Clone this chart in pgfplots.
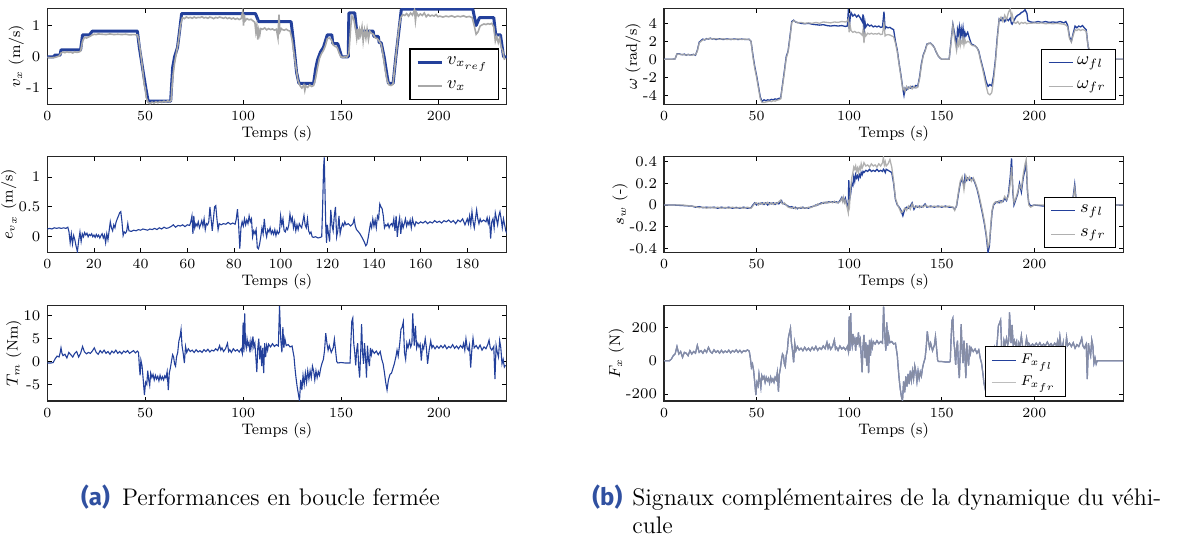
\documentclass[border=0pt]{standalone}
\usepackage{fontspec}
\usepackage{pgfplots}
\pgfplotsset{compat=1.18}
\usepackage{pgfplotstable}
\newfontfamily\capsf{Fira Sans}
\definecolor{pblue}{RGB}{35,64,155}
\definecolor{pgray}{RGB}{168,168,168}
\definecolor{capblue}{RGB}{48,80,160}

\pgfplotsset{
  myax/.style={
    scale only axis, width=229.6pt, height=48pt,
    anchor=north west,
    axis line style={black!85, line width=0.55pt},
    tick align=inside, major tick length=2.2pt,
    tick style={black, line width=0.45pt},
    tick label style={font=\fontsize{7.4}{8.5}\selectfont},
    xlabel near ticks, ylabel near ticks,
    xlabel style={font=\fontsize{7.6}{8.5}\selectfont, inner sep=2pt, yshift=2.5pt},
    ylabel style={font=\fontsize{7.6}{8.5}\selectfont, inner sep=1pt, yshift=-3.5pt},
    xlabel={Temps (s)},
    xtick={0,50,100,150,200},
    xmin=0,
    legend cell align=left,
    legend image code/.code={\draw[##1] (0pt,0pt) -- (12pt,0pt);},
    legend style={draw=black, line width=0.6pt, fill=white,
      font=\fontsize{9}{10}\selectfont, inner xsep=3pt, inner ysep=2pt, row sep=2.5pt},
  },
}

\pgfplotstableread{
t fl fr
0 0 0
3 0 0
5 0.02 0.02
6 0.05 0.05
7 0.6 0.6
8 0.62 0.58
9 0.55 0.52
10 0.5 0.55
11 0.58 0.5
12 0.45 0.48
13 0.55 0.5
14 0.48 0.5
15 0.5 0.45
16 0.55 0.52
17 0.45 0.5
18 1.0 0.9
19 1.9 1.8
20 2.1 2.0
21 2.25 2.15
22 2.15 2.2
23 2.3 2.25
24 2.25 2.3
25 2.35 2.3
26 2.25 2.3
27 2.3 2.25
28 2.2 2.3
30 2.28 2.22
32 2.2 2.28
34 2.27 2.2
36 2.2 2.25
38 2.26 2.2
40 2.2 2.27
42 2.25 2.2
44 2.2 2.25
46 2.22 2.2
47 2.0 2.0
48 0.5 0.3
49 -0.8 -1.0
50 -1.8 -2.0
51 -3.0 -3.2
52 -4.2 -4.4
53 -4.7 -4.8
54 -4.5 -4.8
55 -4.6 -4.75
56 -4.5 -4.7
57 -4.55 -4.65
58 -4.45 -4.7
59 -4.5 -4.6
60 -4.4 -4.65
61 -4.45 -4.55
62 -4.35 -4.5
63 -4.3 -4.4
64 -2.8 -3.0
65 -1.3 -1.5
66 0.3 0.1
67 0.9 0.8
68 2.5 2.3
69 4.2 4.1
70 4.35 4.3
71 4.15 4.2
72 4.1 4.05
74 4.0 4.1
76 3.95 4.0
78 4.0 4.05
80 3.9 4.0
82 3.85 4.1
84 3.8 4.0
86 3.85 4.15
88 3.75 4.1
90 3.7 4.05
92 3.75 4.15
94 3.7 4.1
96 3.75 4.2
98 3.65 4.15
99 3.7 4.25
99.6 5.6 4.5
100 3.4 3.0
100.5 4.5 3.8
101 5.2 3.2
102 4.8 3.0
103 5.0 3.1
104 4.7 2.95
105 4.9 3.0
106 4.6 2.9
107 4.2 2.7
107.5 5.0 3.3
108 2.8 1.8
108.5 4.2 3.0
109 3.6 2.6
110 3.9 2.9
111 3.7 2.8
112 3.8 2.9
113 3.6 2.8
114 3.7 2.85
115 3.6 2.8
116 3.7 2.9
117 3.55 2.75
118 3.6 2.8
118.8 5.3 4.0
119.4 3.4 2.6
120 3.6 2.7
121 3.5 2.75
122 3.55 2.7
123 3.4 2.6
124 3.3 2.5
125 2.0 1.8
126 1.0 0.8
127 -0.5 -0.6
128 -1.8 -2.0
129 -3.3 -3.4
129.6 -4.0 -3.2
130.2 -3.2 -3.6
131 -3.4 -3.0
132 -3.1 -3.3
133 -3.2 -3.0
134 -3.0 -3.3
135 -3.15 -3.0
136 -2.9 -3.2
137 -3.0 -3.1
138 -2.0 -2.2
139 -0.5 -0.7
140 0.5 0.4
141 1.0 0.9
142 1.7 1.6
143 1.75 1.8
144 1.8 1.75
145 1.6 1.55
146 1.3 1.3
147 0.8 0.85
148 0.4 0.4
149 0.15 0.2
150 0.0 0.0
152 0.0 0.02
154 0.0 0.0
155 2.0 1.8
156 3.9 3.8
157 2.8 2.2
158 1.5 1.0
158.5 3.3 2.0
159 2.8 1.6
159.5 3.6 2.4
160 2.5 1.5
160.5 3.4 2.0
161 2.6 1.8
161.5 3.5 2.4
162 2.4 1.6
162.5 3.0 2.2
163 2.6 1.8
164 3.0 2.0
165 2.3 1.9
166 1.7 1.6
167 1.6 1.5
168 1.5 1.5
169 1.3 1.3
170 0.9 0.8
171 0.0 -0.2
172 -0.8 -1.0
173 -1.6 -2.0
174 -2.5 -3.0
175 -3.0 -3.8
176 -2.8 -3.95
177 -2.95 -3.7
178 -1.8 -2.3
179 0.0 -0.3
180 2.5 2.2
181 4.5 4.4
182 4.3 4.7
183 4.6 4.2
184 4.2 4.9
185 4.5 4.4
186 4.3 5.2
187 4.6 5.6
187.6 4.0 4.6
188 3.9 5.0
189 4.3 4.1
190 4.7 4.0
191 4.9 4.2
192 5.0 3.9
193 5.2 4.1
194 5.3 4.0
195 5.5 4.1
196 5.1 3.95
196.5 4.3 4.0
198 4.15 4.0
200 4.1 4.05
202 4.2 4.0
204 4.1 4.05
206 4.2 3.95
208 4.1 4.0
210 4.15 3.95
212 4.1 4.0
214 4.2 3.95
216 4.05 3.9
217 4.2 3.8
218 3.8 3.6
219 2.5 2.3
220 2.0 1.9
221 2.9 2.7
222 3.7 3.3
223 3.5 3.2
224 3.7 3.35
225 3.6 3.2
226 3.75 3.3
227 3.5 3.25
228 3.3 3.1
229 1.5 1.5
230 0.5 1.0
231 0.0 0.2
232 0.0 0.0
248 0 0
}\omegatab

\pgfplotstableread{
t fl fr
0 0 0
5 0.0 0.0
10 -0.005 0.0
15 -0.01 -0.01
17 -0.02 -0.015
19 -0.015 -0.025
21 -0.025 -0.02
23 -0.02 -0.03
25 -0.025 -0.02
27 -0.02 -0.028
29 -0.03 -0.02
31 -0.02 -0.03
33 -0.028 -0.022
35 -0.02 -0.03
37 -0.03 -0.02
39 -0.022 -0.03
41 -0.03 -0.022
43 -0.02 -0.03
45 -0.03 -0.02
47 -0.025 -0.03
48 0.0 -0.01
49 0.02 0.015
50 0.0 0.02
51 0.015 0.0
52 0.01 0.02
53 0.02 0.005
54 0.005 0.02
55 0.02 0.01
56 0.0 0.025
57 0.02 0.005
58 0.01 0.02
59 0.02 0.005
60 0.005 0.02
61 0.02 0.01
62 0.01 0.03
63 0.03 0.045
63.5 0.04 0.02
64 0.015 0.01
65 0.01 0.02
66 0.0 0.0
67 -0.01 -0.02
68 -0.02 -0.025
69 -0.015 -0.03
70 -0.03 -0.02
71 -0.02 -0.035
72 -0.035 -0.025
73 -0.025 -0.03
74 -0.03 -0.02
75 -0.02 -0.03
76 -0.03 -0.025
77 -0.025 -0.03
78 -0.03 -0.02
79 -0.02 -0.025
80 -0.015 -0.02
81 -0.01 -0.005
82 0.0 -0.01
83 0.0 0.01
84 0.01 0.005
85 0.02 0.01
86 0.015 0.025
87 0.025 0.015
88 0.02 0.03
89 0.03 0.02
90 0.025 0.03
91 0.03 0.02
92 0.025 0.035
93 0.03 0.02
94 0.02 0.025
95 0.04 0.03
96 0.07 0.06
96.5 0.04 0.03
97 0.06 0.07
97.5 0.03 0.02
98 0.06 0.04
98.5 0.02 0.0
99 0.0 -0.03
99.5 -0.02 -0.07
99.8 0.23 0.05
100.2 0.05 0.0
100.8 0.1 0.15
101.4 0.2 0.25
102 0.18 0.3
102.5 0.26 0.35
103 0.22 0.33
103.5 0.28 0.36
104 0.25 0.31
104.5 0.27 0.34
105 0.24 0.3
105.5 0.28 0.35
106 0.26 0.33
106.5 0.3 0.38
107 0.28 0.34
107.5 0.31 0.36
108 0.3 0.39
109 0.32 0.36
110 0.31 0.37
111 0.33 0.35
112 0.31 0.38
113 0.32 0.36
114 0.31 0.37
115 0.33 0.35
116 0.31 0.38
117 0.32 0.36
118 0.31 0.39
118.5 0.33 0.44
119 0.32 0.37
119.5 0.3 0.4
120 0.33 0.36
121 0.32 0.38
122 0.31 0.42
123 0.3 0.35
124 0.2 0.22
125 0.05 0.06
126 0.0 0.01
127 -0.02 -0.03
128 -0.05 -0.07
129 -0.1 -0.06
130 -0.04 -0.03
131 -0.02 -0.05
132 -0.03 -0.01
133 -0.01 -0.04
134 0.02 0.01
135 -0.04 -0.02
136 -0.01 -0.02
137 -0.02 -0.01
138 -0.01 -0.025
139 -0.02 -0.01
140 -0.01 -0.02
141 0.01 0.0
142 -0.02 -0.01
144 -0.01 -0.02
146 -0.02 -0.01
148 -0.01 -0.02
150 -0.02 -0.01
152 -0.01 -0.02
154 -0.02 -0.01
156 -0.02 -0.02
157 -0.04 -0.05
158 -0.01 0.0
159 0.1 0.12
160 0.2 0.22
161 0.24 0.26
162 0.18 0.14
162.5 0.26 0.2
163 0.22 0.27
164 0.25 0.23
165 0.23 0.26
166 0.25 0.22
167 0.24 0.25
168 0.2 0.21
169 0.15 0.16
170 0.08 0.1
171 0.0 0.02
172 -0.08 -0.06
173 -0.17 -0.15
174 -0.28 -0.26
175 -0.44 -0.39
175.7 -0.38 -0.36
176.5 -0.2 -0.18
177.2 -0.06 -0.05
178 0.0 0.01
179 0.02 0.03
180 0.03 0.02
181 0.02 0.04
182 0.04 0.02
183 0.03 0.04
184 0.06 0.08
185 0.04 0.05
186 0.1 0.08
187 0.26 0.2
187.7 0.43 0.35
188.4 0.12 0.15
189 0.0 0.02
190 0.05 0.06
191 0.1 0.12
192 0.2 0.18
193 0.12 0.15
194 0.25 0.28
195 0.33 0.38
195.6 0.4 0.42
196.3 0.12 0.15
197 0.02 0.0
198 -0.01 -0.02
200 0.0 0.0
205 -0.01 0.0
210 0.0 -0.01
215 -0.01 0.0
220 0.0 0.0
221 0.08 0.06
221.8 0.19 0.16
222.5 0.06 0.05
223.5 0.0 0.0
230 0.0 0.0
248 0 0
}\slipTab

\pgfplotstableread{
t F
0 0
3 0
4 10
5 30
6 40
7 85
8 40
9 55
10 20
11 50
12 45
13 30
14 60
15 40
16 55
17 45
18 92
19 50
20 60
21 45
22 65
23 50
24 80
25 55
26 45
27 65
28 50
29 60
30 45
31 62
32 48
33 58
34 50
35 63
36 47
37 60
38 52
39 65
40 50
41 62
42 48
43 60
44 55
45 65
46 58
46.6 20
47.2 -40
47.8 -20
48.4 -60
49 -130
49.6 -206
50.2 -130
50.8 -150
51.3 -80
51.8 -120
52.3 -160
52.8 -90
53.4 -110
54 -95
54.6 -130
55.2 -100
55.8 -120
56.4 -105
57 -135
57.6 -100
58.2 -125
58.8 -110
59.4 -130
60 -100
60.6 -115
61.2 -70
61.8 -186
62.3 -80
62.8 -50
63.5 10
64 40
64.5 30
65 -20
65.5 -35
66 30
66.6 60
67.2 140
67.8 170
68.3 195
68.8 110
69.4 60
70 -10
70.6 105
71.2 60
72 85
73 65
74 75
75 60
76 80
77 62
78 75
79 60
80 80
81 65
82 85
83 62
84 78
85 68
86 88
87 72
88 110
88.6 75
89.2 95
90 68
91 85
92 125
92.6 70
93.2 80
94 62
95 88
96 70
97 80
98 65
99 85
99.6 55
100 265
100.4 60
100.8 285
101.2 120
101.6 90
102 160
102.5 110
103 130
103.5 60
104 140
104.5 95
105 170
105.5 100
106 125
106.5 30
107 -70
107.5 90
108 155
108.5 15
109 110
109.5 -30
110 95
110.5 -75
111 125
111.5 30
112 110
112.5 80
113 115
114 100
115 120
116 102
117 115
118 105
118.6 325
119.2 155
119.8 60
120.3 230
120.8 90
121.3 155
122 108
123 115
124 100
125 105
126 30
126.5 -45
127 -110
127.6 -170
128.2 -215
128.8 -240
129.4 -125
130 -190
130.6 -95
131.2 -155
131.8 -80
132.4 -140
133 -60
133.6 -118
134.2 -60
134.8 -108
135.4 -30
136 -62
136.6 -125
137.2 -62
137.8 -108
138.4 -68
139 -93
139.6 -45
140.2 -15
141 15
141.6 80
142.2 175
142.8 120
143.4 78
144 105
145 60
146 92
146.6 145
147.2 75
147.8 0
148.4 -5
150 -5
152 -8
154 -8
154.6 -5
155 120
155.5 240
156 255
156.5 120
157 60
157.5 -25
158 75
158.5 120
159 -30
159.5 -105
160 45
160.5 220
161 60
161.5 -15
162 120
162.5 30
163 -105
163.5 105
164 15
164.5 -30
165 90
165.5 45
166 75
167 55
168 70
169 45
170 65
170.8 15
171.5 -15
172.2 -75
172.8 -135
173.5 -172
174.2 -120
175 -85
175.8 -75
176.5 -45
177.2 -15
178 30
178.6 75
179.2 35
180 120
180.6 210
181.2 225
181.8 244
182.4 60
183 15
183.6 120
184.2 90
185 135
185.6 95
186.2 120
186.6 290
187 200
187.4 105
188 215
188.6 90
189.2 120
189.8 95
190.4 115
191 5
191.6 105
192.2 85
193 150
193.6 90
194.2 -15
195 75
195.8 135
196.4 90
197 105
198 85
199 100
200 88
201 105
202 90
203 108
204 85
205 100
206 90
207 112
208 88
209 102
210 85
211 105
212 90
212.6 120
213.2 75
213.8 145
214.4 90
215 75
215.6 108
216.2 -35
216.8 75
217.4 140
218 90
219 105
220 85
221 108
222 75
223 96
224 85
225 114
225.6 135
226.2 90
227 75
228 100
228.6 -110
229.2 105
229.8 60
230.4 30
231 125
231.6 90
232.2 -15
232.8 15
233.4 -20
234 0
248 0
}\forceTab

\begin{document}
\begin{tikzpicture}
\useasboundingbox (0,0) rectangle (591.5pt,-272.5pt);

% ---------------- (a) v_x
\begin{axis}[myax, at={(23.65pt,-4.15pt)}, xmax=234.5, ymin=-1.52, ymax=1.55,
  ytick={-1,0,1}, yticklabels={-1,0,1}, ylabel={$v_x$ (m/s)},
  legend style={at={(1,0)}, anchor=south east, xshift=-3.8pt, yshift=2.1pt}]
\addplot[pblue, line width=1.5pt, line join=round] coordinates {
(0,0) (3.5,0) (3.7,0.05) (6.5,0.05) (7,0.22) (17,0.22) (18,0.7) (21.5,0.7) (23,0.82) (46,0.82)
(47,0.3) (49,-0.5) (50.3,-1.0) (51.5,-1.42) (63,-1.42) (64,-0.35) (65,0.0) (66.5,0.3) (67.5,0.8) (68.6,1.38)
(106.3,1.38) (108,1.12) (124.5,1.12) (125.5,0.6) (126.5,0.0) (127.3,-0.5) (128.5,-0.85) (136,-0.85)
(137,-0.4) (138,-0.1) (139.5,0.15) (141,0.3) (142.5,0.6) (143,0.7) (145.3,0.7) (145.8,0.42) (148.3,0.42)
(150.3,0) (153.7,0) (154,1.4) (157,1.4) (158,0.82) (166.4,0.82) (166.8,0.65) (169,0.65) (169.5,0.45)
(170.5,0.45) (172,0.0) (173.5,-0.6) (174.2,-0.85) (176.6,-0.85) (178,0.0) (179.5,0.8) (180.8,1.52)
(217.3,1.52) (219,1.0) (220.7,1.25) (228,1.25) (229,0.7) (231.4,0.7) (233,0) (234.5,0)
};
\addlegendentry{$v_{x_{ref}}$}
\addplot[pgray, line width=0.8pt] coordinates {
(0,-0.02) (2,-0.03) (4,-0.02) (5,0.0) (6,0.02) (7,0.12) (8,0.15) (9,0.13) (10,0.16) (11,0.14) (12,0.15)
(13,0.12) (14,0.16) (15,0.14) (16,0.15) (17,0.18) (18,0.5) (19,0.62) (20,0.6) (21,0.63) (22,0.66) (23,0.7)
(24,0.72) (25,0.71) (26,0.73) (28,0.72) (30,0.71) (32,0.73) (34,0.71) (36,0.72) (38,0.71) (40,0.72)
(42,0.7) (44,0.71) (46,0.7) (46.5,0.6) (47.5,0.2) (48.5,-0.3) (49.5,-0.9) (50,-1.0) (50.5,-1.3) (51.5,-1.46)
(52.5,-1.5) (53.5,-1.45) (54.5,-1.48) (55.5,-1.44) (56.5,-1.47) (57.5,-1.43) (58.5,-1.46) (59.5,-1.42)
(60.5,-1.45) (61.5,-1.41) (62.5,-1.44) (63.2,-1.4) (64,-0.7) (65,-0.2) (66,0.15) (67,0.5) (68,1.0)
(69,1.25) (70,1.22) (71,1.27) (72,1.24) (73,1.26) (74,1.23) (75,1.27) (76,1.24) (77,1.26) (78,1.25)
(79,1.28) (80,1.24) (81,1.26) (82,1.23) (83,1.27) (84,1.25) (85,1.22) (86,1.26) (87,1.24) (88,1.27)
(89,1.25) (90,1.23) (91,1.26) (92,1.22) (93,1.25) (94,1.21) (95,1.24) (96,1.2) (97,1.23) (98,1.19)
(99,1.22) (99.8,1.45) (100.2,1.0) (100.6,1.35) (101,1.15) (102,1.22) (103,1.18) (104,1.2) (105,1.15)
(106,1.1) (106.5,0.8) (107,1.0) (107.5,0.55) (108,0.85) (108.5,0.7) (109,0.9) (110,0.88) (111,0.92)
(112,0.86) (113,0.9) (114,0.87) (115,0.89) (116,0.85) (117,0.88) (117.8,0.6) (118.3,1.35) (118.8,0.8)
(119.5,0.9) (120,0.87) (121,0.85) (122,0.88) (123,0.84) (124,0.82) (125,0.55) (126,0.1) (127,-0.35)
(128,-0.75) (129,-0.92) (130,-1.0) (131,-0.9) (131.5,-1.08) (132,-0.93) (133,-0.98) (134,-0.9)
(135,-0.95) (136,-0.92) (137,-0.7) (138,-0.35) (139,-0.05) (140,0.1) (141,0.2) (142,0.35) (143,0.58)
(144,0.6) (145,0.55) (146,0.38) (147,0.33) (148,0.3) (149,0.12) (150,0.0) (151,-0.02) (152,0.0)
(153,-0.01) (154,0.1) (155,1.0) (155.6,1.3) (156.5,1.2) (157.5,0.85) (158,0.6) (158.5,0.9) (159,0.55)
(159.5,0.85) (160,0.7) (160.7,0.95) (161.3,0.5) (162,0.85) (162.7,0.6) (163.3,0.88) (164,0.55)
(164.7,0.82) (165.5,0.75) (166.5,0.72) (167.5,0.6) (168.5,0.58) (169.5,0.5) (170.5,0.4) (171.5,0.05)
(172.5,-0.4) (173.5,-0.75) (174.5,-0.9) (175.5,-0.92) (176.5,-0.88) (177.5,-0.3) (178.5,0.3) (179.5,0.9)
(180.5,1.25) (181.5,1.35) (182.5,1.32) (183.5,1.38) (184.5,1.3) (185.5,1.4) (186.5,1.33) (187.5,1.5)
(188,1.15) (188.5,1.42) (189.5,1.3) (190.5,1.37) (191.5,1.32) (192.5,1.4) (193.5,1.28) (194.5,1.35)
(195.5,1.3) (196.5,1.33) (197.5,1.3) (198.5,1.35) (199.5,1.28) (200.5,1.3) (202,1.27) (203.5,1.3)
(205,1.28) (206.5,1.31) (208,1.27) (209.5,1.3) (211,1.28) (212.5,1.31) (214,1.27) (215.5,1.29)
(217,1.25) (218,1.0) (219,0.72) (220,0.8) (221,0.98) (222,1.02) (223,1.05) (224,1.03) (225,1.06)
(226,1.04) (227,1.07) (228,0.95) (228.8,0.5) (229.5,0.65) (230.3,0.45) (231,0.6) (231.8,0.3) (232.5,0.2)
(233.5,-0.1)
};
\addlegendentry{$v_x$}
\end{axis}

% ---------------- (a) e_vx
\begin{axis}[myax, at={(23.65pt,-78.35pt)}, height=47.8pt, xmax=196.8, xtick={0,20,...,180},
  ymin=-0.26, ymax=1.34, ytick={0,0.5,1}, yticklabels={0,0.5,1}, ylabel={$e_{v_x}$ (m/s)}]
\addplot[pblue, line width=0.55pt] coordinates {
(0,0.13) (1,0.14) (2,0.13) (3,0.15) (4,0.14) (5,0.15) (6,0.14) (7,0.15) (8,0.14) (8.8,0.16) (9.3,0.08)
(9.8,-0.1) (10.3,0.05) (10.8,-0.12) (11.3,0.02) (11.8,-0.05) (12.3,-0.15) (12.9,-0.25) (13.5,-0.05)
(14,0.08) (14.5,-0.08) (15,0.05) (15.5,0.0) (16,0.07) (16.5,0.03) (17,0.06) (17.5,0.0) (18,0.04)
(18.5,0.02) (19,0.05) (19.5,0.0) (20,0.03) (20.5,-0.01) (21,0.04) (21.5,0.0) (22,0.03) (22.5,-0.02)
(23,0.02) (23.5,0.05) (24,-0.02) (24.5,0.03) (25,-0.1) (25.5,0.05) (26,-0.05) (26.5,0.1) (27,0.25)
(27.5,0.15) (28,0.1) (28.5,0.2) (29,0.15) (29.5,0.25) (30,0.3) (30.5,0.35) (31,0.4) (31.5,0.42)
(32,0.25) (32.5,0.02) (33,0.08) (33.5,0.06) (34,0.09) (34.5,0.22) (35,0.1) (36,0.09) (37,0.11) (38,0.1)
(39,0.12) (40,0.11) (41,0.13) (42,0.12) (43,0.11) (44,0.13) (45,0.12) (46,0.14) (47,0.12) (48,0.15)
(49,0.13) (50,0.16) (51,0.14) (52,0.15) (53,0.17) (54,0.2) (55,0.16) (56,0.19) (57,0.18) (58,0.2)
(59,0.17) (60,0.2) (61,0.19) (61.5,0.25) (62,0.35) (62.4,0.05) (62.8,0.35) (63.2,0.15) (63.7,0.22)
(64.2,0.18) (64.7,0.25) (65.2,0.15) (65.7,0.2) (66.2,0.27) (66.7,0.18) (67.2,0.3) (67.7,0.12) (68.2,0.22)
(68.7,0.2) (69.2,0.25) (69.7,0.5) (70.2,0.3) (70.7,0.1) (71.2,0.3) (71.7,0.5) (72.2,0.52) (72.7,0.3)
(73.2,0.12) (73.7,0.22) (74.5,0.2) (75.5,0.22) (76.5,0.21) (77.5,0.24) (78.5,0.21) (79.5,0.23)
(80.5,0.21) (81,0.3) (81.5,0.46) (82,0.2) (82.5,-0.2) (83,0.15) (83.5,0.25) (84,0.18) (84.5,0.3)
(85,0.2) (85.5,0.28) (86,0.22) (86.5,0.35) (87,0.25) (87.5,0.3) (88,0.0) (88.5,0.1) (89,0.05) (89.5,0.12)
(90,-0.18) (90.5,-0.2) (91,-0.12) (91.5,0.0) (92,0.15) (92.5,0.05) (93,0.3) (93.5,0.1) (94,0.0)
(94.5,0.12) (95,0.08) (95.5,0.15) (96,0.05) (96.5,0.1) (97,0.04) (97.5,0.12) (98,0.02) (98.5,0.1)
(99,0.05) (99.5,0.08) (100,0.35) (100.5,0.2) (101,0.3) (101.5,0.1) (102,0.08) (102.5,0.15) (103,0.12)
(103.5,0.2) (104,0.38) (104.5,0.25) (105,0.32) (105.5,0.15) (106,0.25) (106.5,0.1) (107,0.2) (107.5,0.12)
(108,0.22) (108.5,0.18) (109,0.15) (109.5,0.25) (110,0.36) (110.5,0.2) (111,0.15) (111.5,0.3) (112,0.1)
(112.5,0.05) (113,0.08) (113.5,0.0) (114,-0.01) (115,0.0) (116,-0.02) (117,-0.01) (117.6,0.0) (118,0.5)
(118.4,1.15) (118.7,1.33) (119.1,0.6) (119.4,0.1) (119.7,-0.1) (120,0.2) (120.5,0.05) (121,-0.08)
(121.5,0.45) (122,0.2) (122.5,0.1) (123,0.35) (123.5,0.5) (124,0.0) (124.5,0.1) (125,0.35) (125.5,0.05)
(126,0.15) (126.5,0.22) (127,0.18) (127.5,0.25) (128,0.2) (129,0.22) (130,0.18) (131,0.22) (131.5,0.3)
(132,0.18) (132.5,0.12) (133,0.1) (134,0.05) (135,-0.02) (136,-0.1) (136.5,-0.15) (137,-0.12)
(137.5,-0.02) (138,0.1) (138.5,0.22) (139,0.15) (139.5,0.3) (140,0.18) (140.5,0.28) (141,0.15)
(141.5,0.35) (142,0.3) (142.5,0.55) (143,0.5) (143.5,0.47) (144,0.35) (144.5,0.15) (145,0.2) (145.5,0.18)
(146,0.22) (146.5,0.15) (147,0.2) (147.5,0.22) (148,0.18) (148.5,0.3) (149,0.1) (149.5,0.35) (150,0.0)
(150.5,0.2) (151,0.32) (151.5,0.05) (152,0.25) (152.5,0.15) (153,0.22) (153.5,0.3) (154,0.18) (154.5,0.25)
(155,0.2) (155.5,0.28) (156,0.15) (156.5,0.3) (157,0.22) (157.5,0.18) (158,0.25) (159,0.22) (160,0.25)
(161,0.23) (162,0.26) (163,0.22) (164,0.25) (165,0.23) (166,0.27) (167,0.24) (168,0.26) (169,0.23)
(170,0.27) (171,0.25) (172,0.28) (173,0.24) (174,0.27) (175,0.22) (176,0.28) (177,0.25) (178,0.3)
(179,0.2) (180,0.3) (180.5,0.22) (181,0.35) (181.5,0.2) (182,0.42) (182.5,0.25) (183,0.15) (183.5,0.3)
(184,0.45) (184.5,0.3) (185,0.22) (185.5,0.3) (186,0.25) (187,0.28) (188,0.25) (188.5,0.32) (189,0.22)
(189.5,0.3) (190,-0.03) (190.5,0.25) (191,0.3) (191.5,0.15) (192,0.4) (192.5,0.3) (193,0.2) (193.5,0.35)
(194,0.42) (194.5,0.3) (195,0.15) (195.5,0.3) (196,0.2) (196.5,0.1) (197,0.05)
};
\end{axis}

% ---------------- (a) T_m
\begin{axis}[myax, at={(23.65pt,-152.85pt)}, height=47.65pt, xmax=234.5,
  ymin=-8.6, ymax=12.2, ytick={-5,0,5,10}, yticklabels={-5,0,5,10}, ylabel={$T_m$ (Nm)}]
\addplot[pblue, line width=0.55pt] coordinates {
(0,-0.3) (1,-0.3) (2,-0.3) (3,-0.2) (4,0.6) (5,1.2) (6,1.0) (6.5,1.8) (7,3.0) (7.5,1.8) (8,1.3) (9,1.6)
(10,0.8) (11,2.0) (12,1.5) (13,1.0) (14,1.8) (15,2.2) (16,1.0) (17,1.8) (18,3.3) (19,2.1) (20,1.7)
(21,2.0) (22,1.8) (23,2.3) (24,3.0) (25,2.0) (26,1.6) (27,2.4) (28,1.9) (29,2.5) (30,1.8) (31,2.2)
(32,1.6) (33,2.3) (34,1.9) (35,2.5) (36,1.8) (37,2.2) (38,1.7) (39,2.3) (40,2.0) (41,2.4) (42,1.8)
(43,2.1) (44,2.4) (45,1.9) (46,2.3) (46.6,2.0) (47,-1.0) (47.4,-3.0) (47.8,0.3) (48.4,-1.0) (49,-4.0)
(49.6,-7.3) (50.2,-4.5) (50.8,-5.0) (51.3,-2.0) (51.8,-4.0) (52.3,-5.2) (52.8,-2.5) (53.4,-3.5) (54,-2.8)
(54.6,-4.0) (55.2,-3.0) (55.8,-3.8) (56.4,-3.2) (57,-4.2) (57.6,-3.0) (58.2,-3.9) (58.8,-3.3) (59.4,-4.0)
(60,-3.1) (60.6,-3.6) (61.2,-2.2) (61.8,-6.2) (62.3,-2.5) (62.8,-1.5) (63.5,0.3) (64,1.5) (64.5,1.0)
(65,-0.5) (65.5,-1.0) (66,1.0) (66.6,2.0) (67.2,4.5) (67.8,5.5) (68.3,7.0) (68.8,3.5) (69.4,1.8)
(70,-0.3) (70.6,3.3) (71.2,2.0) (72,2.8) (73,2.2) (74,2.5) (75,2.0) (76,2.6) (77,2.1) (78,2.4) (79,2.0)
(80,2.6) (81,2.2) (82,2.7) (83,2.1) (84,2.5) (85,2.3) (86,2.8) (87,2.4) (88,3.5) (88.6,2.5) (89.2,3.0)
(90,2.2) (91,2.8) (92,4.0) (92.6,2.2) (93.2,2.6) (94,2.0) (95,2.8) (96,2.3) (97,2.6) (98,2.1) (99,2.8)
(99.6,1.8) (100,8.5) (100.4,2.0) (100.8,10.5) (101.2,4.0) (101.6,3.0) (102,5.0) (102.5,3.5) (103,4.2)
(103.5,2.0) (104,4.5) (104.5,3.0) (105,5.5) (105.5,3.2) (106,4.0) (106.5,1.0) (107,-2.3) (107.5,3.0)
(108,5.0) (108.5,0.5) (109,3.5) (109.5,-1.0) (110,3.0) (110.5,-2.5) (111,4.0) (111.5,1.0) (112,3.5)
(112.5,2.5) (113,3.8) (114,3.2) (115,3.9) (116,3.3) (117,3.7) (118,3.4) (118.6,12.1) (119.2,5.0)
(119.8,2.0) (120.3,7.5) (120.8,3.0) (121.3,5.0) (122,3.5) (123,3.7) (124,3.2) (125,3.4) (126,1.0)
(126.5,-1.5) (127,-3.5) (127.6,-5.5) (128.2,-7.0) (128.8,-8.6) (129.4,-4.0) (130,-6.2) (130.6,-3.0)
(131.2,-5.0) (131.8,-2.5) (132.4,-4.5) (133,-2.0) (133.6,-3.8) (134.2,-2.0) (134.8,-3.5) (135.4,-1.0)
(136,-2.0) (136.6,-4.0) (137.2,-2.0) (137.8,-3.5) (138.4,-2.2) (139,-3.0) (139.6,-1.5) (140.2,-0.5)
(141,0.5) (141.6,2.5) (142.2,6.2) (142.8,4.0) (143.4,2.5) (144,3.5) (145,2.0) (146,3.0) (146.6,4.9)
(147.2,2.5) (147.8,0.0) (148.4,-0.3) (150,-0.2) (152,-0.3) (154,-0.3) (154.6,-0.3) (155,4.0) (155.5,8.8)
(156,9.5) (156.5,4.0) (157,2.0) (157.5,-0.8) (158,2.5) (158.5,4.0) (159,-1.0) (159.5,-3.5) (160,1.5)
(160.5,8.2) (161,2.0) (161.5,-0.5) (162,4.0) (162.5,1.0) (163,-3.5) (163.5,3.5) (164,0.5) (164.5,-1.0)
(165,3.0) (165.5,1.5) (166,2.5) (167,1.8) (168,2.3) (169,1.5) (170,2.2) (170.8,0.5) (171.5,-0.5)
(172.2,-2.5) (172.8,-4.5) (173.5,-6.2) (174.2,-4.0) (175,-2.8) (175.8,-2.5) (176.5,-1.5) (177.2,-0.5)
(178,1.0) (178.6,2.5) (179.2,1.2) (180,4.0) (180.6,7.0) (181.2,7.5) (181.8,8.7) (182.4,2.0) (183,0.5)
(183.6,4.0) (184.2,3.0) (185,4.5) (185.6,3.2) (186.2,4.0) (186.6,10.5) (187,7.0) (187.4,3.5) (188,7.8)
(188.6,3.0) (189.2,4.0) (189.8,3.2) (190.4,3.8) (191,0.2) (191.6,3.5) (192.2,2.8) (193,5.0) (193.6,3.0)
(194.2,-0.5) (195,2.5) (195.8,4.5) (196.4,3.0) (197,3.5) (198,2.8) (199,3.4) (200,2.9) (201,3.5)
(202,3.0) (203,3.6) (204,2.8) (205,3.3) (206,3.0) (207,3.7) (208,2.9) (209,3.4) (210,2.8) (211,3.5)
(212,3.0) (212.6,4.0) (213.2,2.5) (213.8,5.0) (214.4,3.0) (215,2.5) (215.6,3.6) (216.2,-1.3) (216.8,2.5)
(217.4,5.1) (218,3.0) (219,3.5) (220,2.8) (221,3.6) (222,2.5) (223,3.2) (224,2.8) (225,3.8) (225.6,4.7)
(226.2,3.0) (227,2.5) (228,3.3) (228.6,-3.8) (229.2,3.5) (229.8,2.0) (230.4,1.0) (231,4.6) (231.6,3.0)
(232.2,-0.5) (232.8,0.5) (233.4,-1.2) (234,-0.8)
};
\end{axis}

% ---------------- (b) omega
\begin{axis}[myax, at={(332pt,-4.15pt)}, xmax=248, ymin=-5.0, ymax=5.67,
  ytick={-4,-2,0,2,4}, yticklabels={-4,-2,0,2,4}, ylabel={$\omega$ (rad/s)},
  legend style={at={(1,0)}, anchor=south east, xshift=-3.5pt, yshift=2pt}]
\addplot[pblue, line width=0.65pt] table[x=t, y=fl] {\omegatab};
\addlegendentry{$\omega_{fl}$}
\addplot[pgray, line width=0.65pt, draw opacity=0.9] table[x=t, y=fr] {\omegatab};
\addlegendentry{$\omega_{fr}$}
\end{axis}

% ---------------- (b) slip
\begin{axis}[myax, at={(332pt,-78.35pt)}, height=47.8pt, xmax=248, ymin=-0.437, ymax=0.446,
  ytick={-0.4,-0.2,0,0.2,0.4}, yticklabels={-0.4,-0.2,0,0.2,0.4}, ylabel={$s_w$ (-)},
  legend style={at={(1,0)}, anchor=south east, xshift=-3.5pt, yshift=2pt}]
\addplot[pblue, line width=0.65pt] table[x=t, y=fl] {\slipTab};
\addlegendentry{$s_{fl}$}
\addplot[pgray, line width=0.65pt, draw opacity=0.9] table[x=t, y=fr] {\slipTab};
\addlegendentry{$s_{fr}$}
\end{axis}

% ---------------- (b) F_x
\begin{axis}[myax, at={(332pt,-152.85pt)}, height=47.65pt, xmax=248, ymin=-242, ymax=330,
  ytick={-200,0,200}, yticklabels={-200,0,200}, ylabel={$F_x$ (N)},
  legend style={at={(0.876,0)}, anchor=south east, yshift=2pt, row sep=0.5pt,
    font=\fontsize{7}{8}\selectfont}]
\addplot[pblue, line width=0.6pt] table[x=t, y=F] {\forceTab};
\addlegendentry{$F_{x_{fl}}$}
\addplot[pgray, line width=0.6pt, draw opacity=0.75] table[x=t, y=F] {\forceTab};
\addlegendentry{$F_{x_{fr}}$}
\end{axis}

% ---------------- captions
\node[anchor=base west, inner sep=0pt] at (40.35pt,-252.85pt) {\fontsize{12}{14.4}\selectfont\capsf\bfseries\color{capblue}(a)};
\node[anchor=base west, inner sep=0pt] at (60.85pt,-252.85pt) {\fontsize{12}{14.4}\selectfont Performances en boucle fermée};
\node[anchor=base west, inner sep=0pt] at (296pt,-252.85pt) {\fontsize{12}{14.4}\selectfont\capsf\bfseries\color{capblue}(b)};
\node[anchor=base west, inner sep=0pt] at (316pt,-252.85pt) {\fontsize{12}{14.4}\selectfont Signaux complémentaires de la dynamique du véhi-};
\node[anchor=base west, inner sep=0pt] at (316pt,-266.5pt) {\fontsize{12}{14.4}\selectfont cule};
\end{tikzpicture}
\end{document}
